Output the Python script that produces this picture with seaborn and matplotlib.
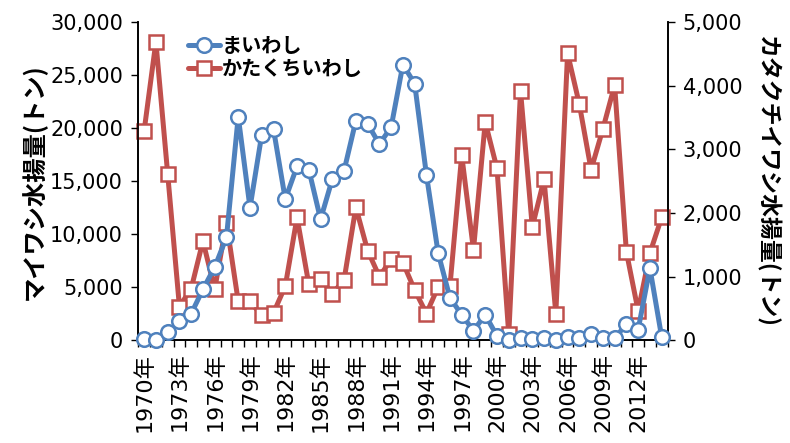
import numpy as np
import pandas as pd
import matplotlib
matplotlib.use("Agg")
import matplotlib.pyplot as plt
import matplotlib.ticker as mticker
import seaborn as sns

# data
years = list(range(1970, 2015))
maiwashi = [100, 0, 800, 1800, 2500, 4800, 6900, 9700, 21100, 12500,
            19400, 19900, 13300, 16400, 16100, 11400, 15200, 16000, 20700, 20400,
            18500, 20100, 26000, 24200, 15600, 8200, 4000, 2400, 900, 2400,
            400, 0, 200, 100, 200, 0, 300, 200, 600, 200,
            200, 1500, 1000, 6800, 300]
katakuchi = [3290, 4690, 2620, 530, 810, 1560, 800, 1850, 610, 610,
             390, 430, 850, 1930, 880, 970, 730, 950, 2090, 1410,
             1000, 1270, 1220, 790, 420, 840, 850, 2910, 1420, 3430,
             2700, 90, 3920, 1780, 2530, 420, 4510, 3710, 2680, 3320,
             4010, 1390, 460, 1370, 1930]
tick_years = list(range(1970, 2013, 3))

df = pd.DataFrame({"year": years, "maiwashi": maiwashi, "katakuchi": katakuchi})

sns.set_style("ticks", {"text.color": "black", "xtick.color": "black",
                        "ytick.color": "black", "axes.labelcolor": "black",
                        "axes.edgecolor": "black"})
plt.rcParams['font.family'] = ['DejaVu Sans', 'Noto Sans CJK JP']
jp = ['Noto Sans CJK JP', 'DejaVu Sans']

blue = "#4F81BD"
red = "#C0504D"

fig, ax = plt.subplots(figsize=(7.9, 4.43), dpi=100)
fig.subplots_adjust(left=0.175, right=0.845, top=0.95, bottom=0.232)
ax2 = ax.twinx()

sns.lineplot(data=df, x="year", y="maiwashi", ax=ax, color=blue, lw=3.6,
             marker="o", markersize=10.5, markerfacecolor="white",
             markeredgecolor=blue, markeredgewidth=1.8, clip_on=False, zorder=3)
sns.lineplot(data=df, x="year", y="katakuchi", ax=ax2, color=red, lw=3.6,
             marker="s", markersize=10.5, markerfacecolor="white",
             markeredgecolor=red, markeredgewidth=1.8, clip_on=False, zorder=3)

ax.set_xlim(1969.6, 2014.4)
ax.set_ylim(0, 30000)
ax2.set_ylim(0, 5000)

ax.set_yticks(range(0, 30001, 5000))
ax2.set_yticks(range(0, 5001, 1000))
fmt = mticker.FuncFormatter(lambda v, p: f"{int(v):,}")
ax.yaxis.set_major_formatter(fmt)
ax2.yaxis.set_major_formatter(fmt)

ax.set_xticks(tick_years)
ax.set_xticklabels([f"{y}年" for y in tick_years], rotation=90)
ax.set_xticks(np.arange(1969.5, 2014.6, 1), minor=True)
ax.tick_params(axis="x", which="major", length=0, pad=9, labelsize=16, labelcolor="black")
ax.tick_params(axis="x", which="minor", length=5, width=1, direction="out", color="black")
ax.tick_params(axis="y", length=5, width=1, labelsize=15, pad=6, colors="black")
ax2.tick_params(axis="y", length=5, width=1, labelsize=15, pad=6, colors="black")

ax.set_xlabel("")
ax.set_ylabel("マイワシ水揚量(トン)", fontsize=17.5, family=jp,
              fontweight="bold", color="black", labelpad=2)
ax2.set_ylabel("カタクチイワシ水揚量(トン)", fontsize=16.5, family=jp,
               fontweight="bold", color="black", rotation=270, labelpad=26)

for a in (ax, ax2):
    a.spines["top"].set_visible(False)
    for s in ("left", "right", "bottom"):
        a.spines[s].set_color("black")
        a.spines[s].set_linewidth(1.2)

h1 = ax.get_lines()[0]
h2 = ax2.get_lines()[0]
ax.legend([h1, h2], ["まいわし", "かたくちいわし"], loc="upper left",
          bbox_to_anchor=(0.078, 0.985), frameon=False,
          prop={"family": jp, "size": 14.5, "weight": "bold"},
          handlelength=1.6, handletextpad=0.1, labelspacing=0.1, borderaxespad=0)
ax.set_zorder(ax2.get_zorder() + 1)
ax.patch.set_visible(False)

fig.savefig("out.png", dpi=100)
